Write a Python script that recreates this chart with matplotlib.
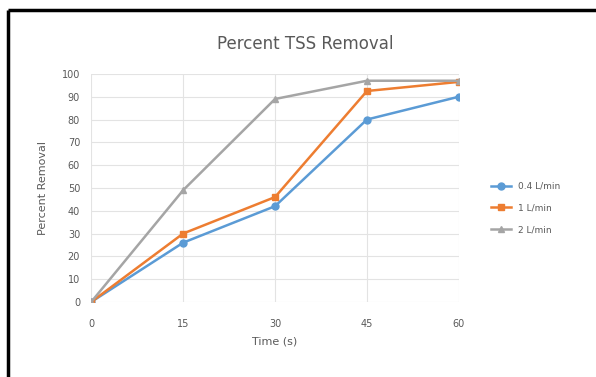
import matplotlib
matplotlib.use("Agg")
import matplotlib.pyplot as plt
from matplotlib.lines import Line2D

# data
time_s = [0, 15, 30, 45, 60]
flow_04 = [0, 26, 42, 80, 90]
flow_1 = [0, 30, 46, 92.5, 96.5]
flow_2 = [0, 49, 89, 97, 97]
labels = ["0.4 L/min", "1 L/min", "2 L/min"]

txt = "#595959"
grid_c = "#e3e3e3"

fig = plt.figure(figsize=(5.96, 3.77), dpi=100)
ax = fig.add_axes([0.153, 0.199, 0.617, 0.605])

ax.plot(time_s, flow_04, color="#5b9bd5", lw=1.8, marker="o", ms=5, label=labels[0], zorder=3)
ax.plot(time_s, flow_1, color="#ed7d31", lw=1.8, marker="s", ms=5, label=labels[1], zorder=3)
ax.plot(time_s, flow_2, color="#a5a5a5", lw=1.8, marker="^", ms=5, label=labels[2], zorder=3)

ax.set_xlim(0, 60)
ax.set_ylim(0, 100)
ax.set_xticks(time_s)
ax.set_yticks(range(0, 101, 10))
ax.grid(True, color=grid_c, lw=0.8)
ax.set_axisbelow(True)
for s in ax.spines.values():
    s.set_visible(False)
ax.tick_params(length=0, labelsize=7, colors=txt, pad=8)
ax.tick_params(axis="x", pad=12)

ax.set_xlabel("Time (s)", fontsize=8, color=txt, labelpad=6)
ax.set_ylabel("Percent Removal", fontsize=8, color=txt, labelpad=10)
fig.text(0.512, 0.883, "Percent TSS Removal", ha="center", va="center", fontsize=12, color=txt)

leg = fig.legend(loc="center left", bbox_to_anchor=(0.81, 0.448), frameon=False,
                 fontsize=6.5, labelcolor=txt, handlelength=2.2, labelspacing=1.4)

# border of the chart area (top and left edges show dark)
fig.add_artist(Line2D([0.013, 1.0], [0.973, 0.973], color="black", lw=2.5, solid_capstyle="butt"))
fig.add_artist(Line2D([0.013, 0.013], [0.0, 0.973], color="black", lw=2.5, solid_capstyle="butt"))

fig.savefig("out.png", dpi=100)
